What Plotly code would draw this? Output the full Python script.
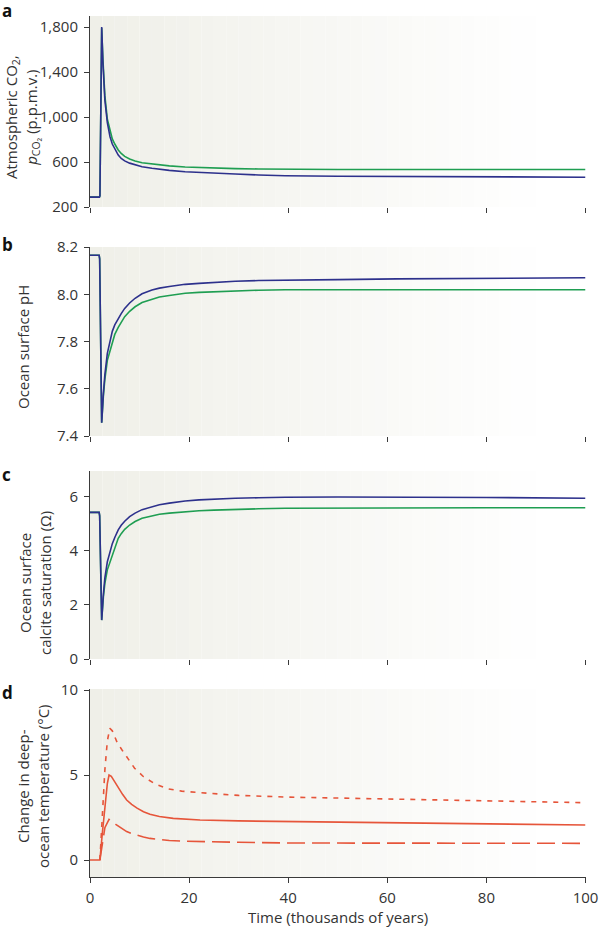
import plotly.graph_objects as go

# ---------------- data ----------------
t_ab = [0, 1.9, 2.0, 2.36, 2.6, 2.8, 3.0, 3.5, 4.04, 4.5, 5.0, 5.7, 6.3, 7.0, 8.0, 9.1, 10.5, 12.5, 14, 16, 19.2, 22, 25, 29.3, 34, 39.4, 50, 62, 80, 100]
co2_blue = [288, 288, 300, 1800, 1490, 1300, 1150, 950, 825, 760, 715, 662, 632, 610, 590, 573, 557, 544, 535, 526, 514, 507, 500, 493, 485, 478, 473, 470, 468, 465]
co2_green = [288, 288, 300, 1790, 1520, 1340, 1190, 980, 869, 805, 760, 707, 676, 650, 627, 609, 594, 582, 573, 566, 556, 551, 546, 541, 538, 535, 534, 533, 533, 533]

t_pc = [0, 1.85, 1.95, 2.36, 2.7, 3.0, 3.5, 4.04, 4.5, 5.0, 5.7, 6.3, 7.0, 8.0, 9.1, 10.5, 12.5, 14, 16, 19.2, 22, 25, 29.3, 34, 39.4, 50, 62, 80, 100]
ph_blue = [8.165, 8.165, 8.15, 7.456, 7.58, 7.66, 7.75, 7.806, 7.843, 7.87, 7.898, 7.918, 7.94, 7.963, 7.983, 8.002, 8.018, 8.026, 8.033, 8.042, 8.046, 8.050, 8.055, 8.058, 8.060, 8.062, 8.065, 8.068, 8.070]
ph_green = [8.165, 8.165, 8.15, 7.456, 7.57, 7.64, 7.72, 7.764, 7.800, 7.83, 7.860, 7.883, 7.905, 7.928, 7.947, 7.965, 7.979, 7.988, 7.995, 8.004, 8.008, 8.011, 8.015, 8.017, 8.019, 8.019, 8.019, 8.019, 8.019]
om_blue = [5.43, 5.43, 5.3, 1.44, 2.4, 3.0, 3.6, 3.97, 4.27, 4.5, 4.78, 4.95, 5.1, 5.27, 5.40, 5.53, 5.64, 5.71, 5.77, 5.85, 5.89, 5.92, 5.95, 5.97, 5.99, 6.0, 6.0, 5.98, 5.95]
om_green = [5.43, 5.43, 5.3, 1.44, 2.3, 2.8, 3.3, 3.60, 3.88, 4.1, 4.47, 4.64, 4.8, 4.96, 5.09, 5.21, 5.30, 5.36, 5.40, 5.46, 5.49, 5.51, 5.54, 5.56, 5.58, 5.59, 5.60, 5.60, 5.60]

t_mid = [0, 2.0, 2.5, 3.0, 3.5, 3.84, 4.3, 5.0, 5.8, 6.6, 7.4, 8.4, 9.5, 10.8, 12.1, 14, 16.8, 19.5, 22.2, 30, 40, 62.6, 80, 100]
dt_mid = [0, 0, 1.6, 3.0, 4.5, 5.0, 4.92, 4.6, 4.2, 3.85, 3.53, 3.27, 3.05, 2.84, 2.69, 2.56, 2.45, 2.39, 2.35, 2.3, 2.27, 2.2, 2.13, 2.06]
t_high = [2.0, 2.4, 3.0, 3.5, 4.0, 4.5, 5.0, 5.5, 6.4, 7.4, 9.0, 10.8, 13, 15.5, 18.5, 22.2, 30, 40, 62.6, 80, 100]
dt_high = [0, 2.0, 5.3, 7.0, 7.75, 7.6, 7.25, 6.9, 6.5, 6.08, 5.4, 4.9, 4.5, 4.2, 4.05, 3.96, 3.8, 3.7, 3.57, 3.45, 3.37]
t_low = [2.0, 2.5, 3.0, 3.84, 4.5, 5.2, 6.2, 7.4, 8.4, 9.5, 10.8, 12.1, 14, 16, 19, 22.2, 30, 40, 62.6, 80, 100]
dt_low = [0, 1.0, 1.9, 2.39, 2.28, 2.1, 1.88, 1.67, 1.55, 1.45, 1.35, 1.27, 1.2, 1.15, 1.11, 1.08, 1.04, 1.0, 0.98, 0.98, 0.98]

x_ticks = [0, 20, 40, 60, 80, 100]

# ---------------- style ----------------
BLUE = "#2d318c"
GREEN = "#1f9e52"
ORANGE = "#e6553a"
AX = "#3a3a3a"
FONT = "Open Sans"
W, H = 600, 931

def py(px):
    return 1 - px / H

fig = go.Figure()

panels = [
    ("x", "y", [16, 207], [200, 1898], [200, 600, 1000, 1400, 1800], ["200", "600", "1,000", "1,400", "1,800"]),
    ("x2", "y2", [247, 436], [7.4, 8.2], [7.4, 7.6, 7.8, 8.0, 8.2], ["7.4", "7.6", "7.8", "8.0", "8.2"]),
    ("x3", "y3", [471, 659], [0, 6.96], [0, 2, 4, 6], ["0", "2", "4", "6"]),
    ("x4", "y4", [689, 877], [-1, 10.06], [0, 5, 10], ["0", "5", "10"]),
]

LW = 1.6
fig.add_trace(go.Scatter(x=t_ab, y=co2_green, mode="lines", line=dict(color=GREEN, width=LW), xaxis="x", yaxis="y"))
fig.add_trace(go.Scatter(x=t_ab, y=co2_blue, mode="lines", line=dict(color=BLUE, width=LW), xaxis="x", yaxis="y"))
fig.add_trace(go.Scatter(x=t_pc, y=ph_green, mode="lines", line=dict(color=GREEN, width=LW), xaxis="x2", yaxis="y2"))
fig.add_trace(go.Scatter(x=t_pc, y=ph_blue, mode="lines", line=dict(color=BLUE, width=LW), xaxis="x2", yaxis="y2"))
fig.add_trace(go.Scatter(x=t_pc, y=om_green, mode="lines", line=dict(color=GREEN, width=LW), xaxis="x3", yaxis="y3"))
fig.add_trace(go.Scatter(x=t_pc, y=om_blue, mode="lines", line=dict(color=BLUE, width=LW), xaxis="x3", yaxis="y3"))
fig.add_trace(go.Scatter(x=t_high, y=dt_high, mode="lines", line=dict(color=ORANGE, width=LW, dash="5px,6px"), xaxis="x4", yaxis="y4"))
fig.add_trace(go.Scatter(x=t_low, y=dt_low, mode="lines", line=dict(color=ORANGE, width=LW, dash="18px,7px"), xaxis="x4", yaxis="y4"))
fig.add_trace(go.Scatter(x=t_mid, y=dt_mid, mode="lines", line=dict(color=ORANGE, width=LW), xaxis="x4", yaxis="y4"))

layout = dict(
    width=W, height=H, margin=dict(l=0, r=0, t=0, b=0),
    paper_bgcolor="white", plot_bgcolor="rgba(0,0,0,0)",
    showlegend=False, font=dict(family=FONT, size=15, color="#333"),
)

xd = [90 / W, 585.5 / W]
shapes = []
N = 40
for i, (xa, ya, pxr, yr, tv, tt) in enumerate(panels):
    sfx = "" if i == 0 else str(i + 1)
    last = i == 3
    layout["xaxis" + sfx] = dict(
        domain=xd, range=[0, 100], anchor=ya, tickvals=x_ticks,
        ticks="outside", ticklen=5, tickcolor=AX, tickwidth=1,
        showticklabels=last, showline=last, linecolor=AX, linewidth=1,
        showgrid=False, zeroline=False, tickfont=dict(size=15, color="#333"),
        ticklabelstandoff=2, automargin=False,
    )
    layout["yaxis" + sfx] = dict(
        domain=[py(pxr[1]), py(pxr[0])], range=yr, anchor=xa, tickvals=tv, ticktext=tt,
        ticks="outside", ticklen=5, tickcolor=AX, tickwidth=1,
        showline=True, linecolor=AX, linewidth=1, showgrid=False, zeroline=False,
        tickfont=dict(size=15, color="#333"), ticklabelstandoff=3, automargin=False,
    )
    # background gradient (left grey-green fading to white)
    for k in range(N):
        x0 = 100 * k / N
        x1 = 100 * (k + 1) / N
        f = min(1.0, (x0 + x1) / 2 / 92)
        c = [int(round(a + (255 - a) * f)) for a in (239, 239, 232)]
        shapes.append(dict(type="rect", xref=xa, yref=ya + " domain", x0=x0, x1=x1, y0=0, y1=1,
                           fillcolor="rgb(%d,%d,%d)" % tuple(c), line=dict(width=0), layer="below"))
layout["shapes"] = shapes

ann = []
for lab, ypx in [("a", 10), ("b", 245), ("c", 474), ("d", 692)]:
    ann.append(dict(text="<b>%s</b>" % lab, x=0.0, y=py(ypx), xref="paper", yref="paper",
                    xanchor="left", yanchor="middle", showarrow=False, font=dict(size=17, color="#111")))
titles = [
    ("Atmospheric CO<sub>2</sub>,<br><i>p</i><sub>CO₂</sub> (p.p.m.v.)", 22, 117),
    ("Ocean surface pH", 23, 347),
    ("Ocean surface<br>calcite saturation (Ω)", 35, 583),
    ("Change in deep-<br>ocean temperature (°C)", 33, 786),
]
for txt, xp, yp in titles:
    ann.append(dict(text=txt, x=xp / W, y=py(yp), xref="paper", yref="paper", textangle=-90,
                    xanchor="center", yanchor="middle", showarrow=False, align="center",
                    font=dict(size=15, color="#333")))
ann.append(dict(text="Time (thousands of years)", x=338 / W, y=py(917), xref="paper", yref="paper",
                xanchor="center", yanchor="middle", showarrow=False, font=dict(size=15, color="#333")))
layout["annotations"] = ann

fig.update_layout(**layout)
fig.write_html("out.html", config={"displayModeBar": False},
               post_script="document.body.style.margin='0';document.body.style.overflow='hidden';")
